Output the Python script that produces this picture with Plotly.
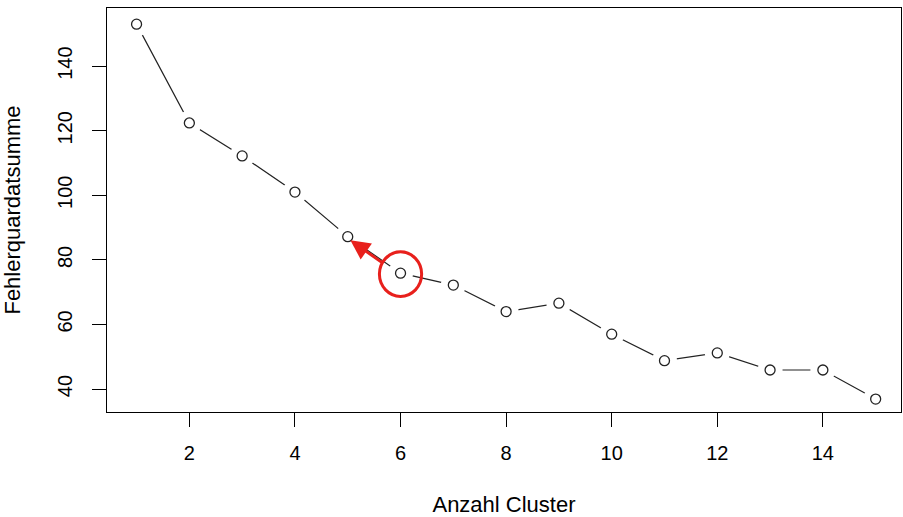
import plotly.graph_objects as go

clusters = list(range(1, 16))
sse = [153.0, 122.4, 112.2, 101.0, 87.2, 75.9, 72.2, 64.0, 66.6, 57.0, 48.8, 51.2, 45.9, 45.9, 36.9]
x_ticks = [2, 4, 6, 8, 10, 12, 14]
y_ticks = [40, 60, 80, 100, 120, 140]

highlight_k = 6
highlight_y = 75.6
arrow_tip = (5.05, 86.1)
arrow_tail = (5.7, 78.6)

fig = go.Figure()
fig.add_trace(go.Scatter(x=clusters, y=sse, mode="lines",
                         line=dict(color="#222222", width=1.2), hoverinfo="skip"))
fig.add_trace(go.Scatter(x=clusters, y=sse, mode="markers",
                         marker=dict(size=25, color="white", line=dict(width=0)), hoverinfo="skip"))
fig.add_trace(go.Scatter(x=clusters, y=sse, mode="markers",
                         marker=dict(size=10, color="white", symbol="circle",
                                     line=dict(color="#222222", width=1.3))))

fig.add_shape(type="circle", xref="x", yref="y",
              x0=highlight_k - 0.4, x1=highlight_k + 0.4,
              y0=highlight_y - 6.9, y1=highlight_y + 6.9,
              line=dict(color="#e8201c", width=3))
fig.add_annotation(x=arrow_tip[0], y=arrow_tip[1], ax=arrow_tail[0], ay=arrow_tail[1],
                   xref="x", yref="y", axref="x", ayref="y", text="",
                   showarrow=True, arrowhead=2, arrowsize=1.3, arrowwidth=3,
                   arrowcolor="#e8201c")

axis_common = dict(showgrid=False, zeroline=False, showline=True, linecolor="black",
                   linewidth=1, mirror=True, ticks="outside", ticklen=14, tickwidth=1,
                   automargin=False,
                   tickcolor="black", tickfont=dict(family="Liberation Sans", size=20, color="black"))

fig.update_layout(
    width=903, height=517,
    margin=dict(l=107, r=2, t=8, b=105),
    plot_bgcolor="white", paper_bgcolor="white",
    showlegend=False,
    xaxis=dict(range=[0.44, 15.48], tickvals=x_ticks, ticklabelstandoff=9,
               title=dict(text="Anzahl Cluster", font=dict(family="Liberation Sans", size=22, color="black"),
                          standoff=38),
               **axis_common),
    yaxis=dict(range=[32.9, 158.0], tickvals=y_ticks, tickangle=-90, ticklabelstandoff=12,
               title=dict(text="Fehlerquardatsumme", font=dict(family="Liberation Sans", size=22, color="black"),
                          standoff=30),
               **axis_common),
)

fig.write_html("out.html", config={"displayModeBar": False},
               post_script="document.body.style.margin='0';document.body.style.padding='0';")
